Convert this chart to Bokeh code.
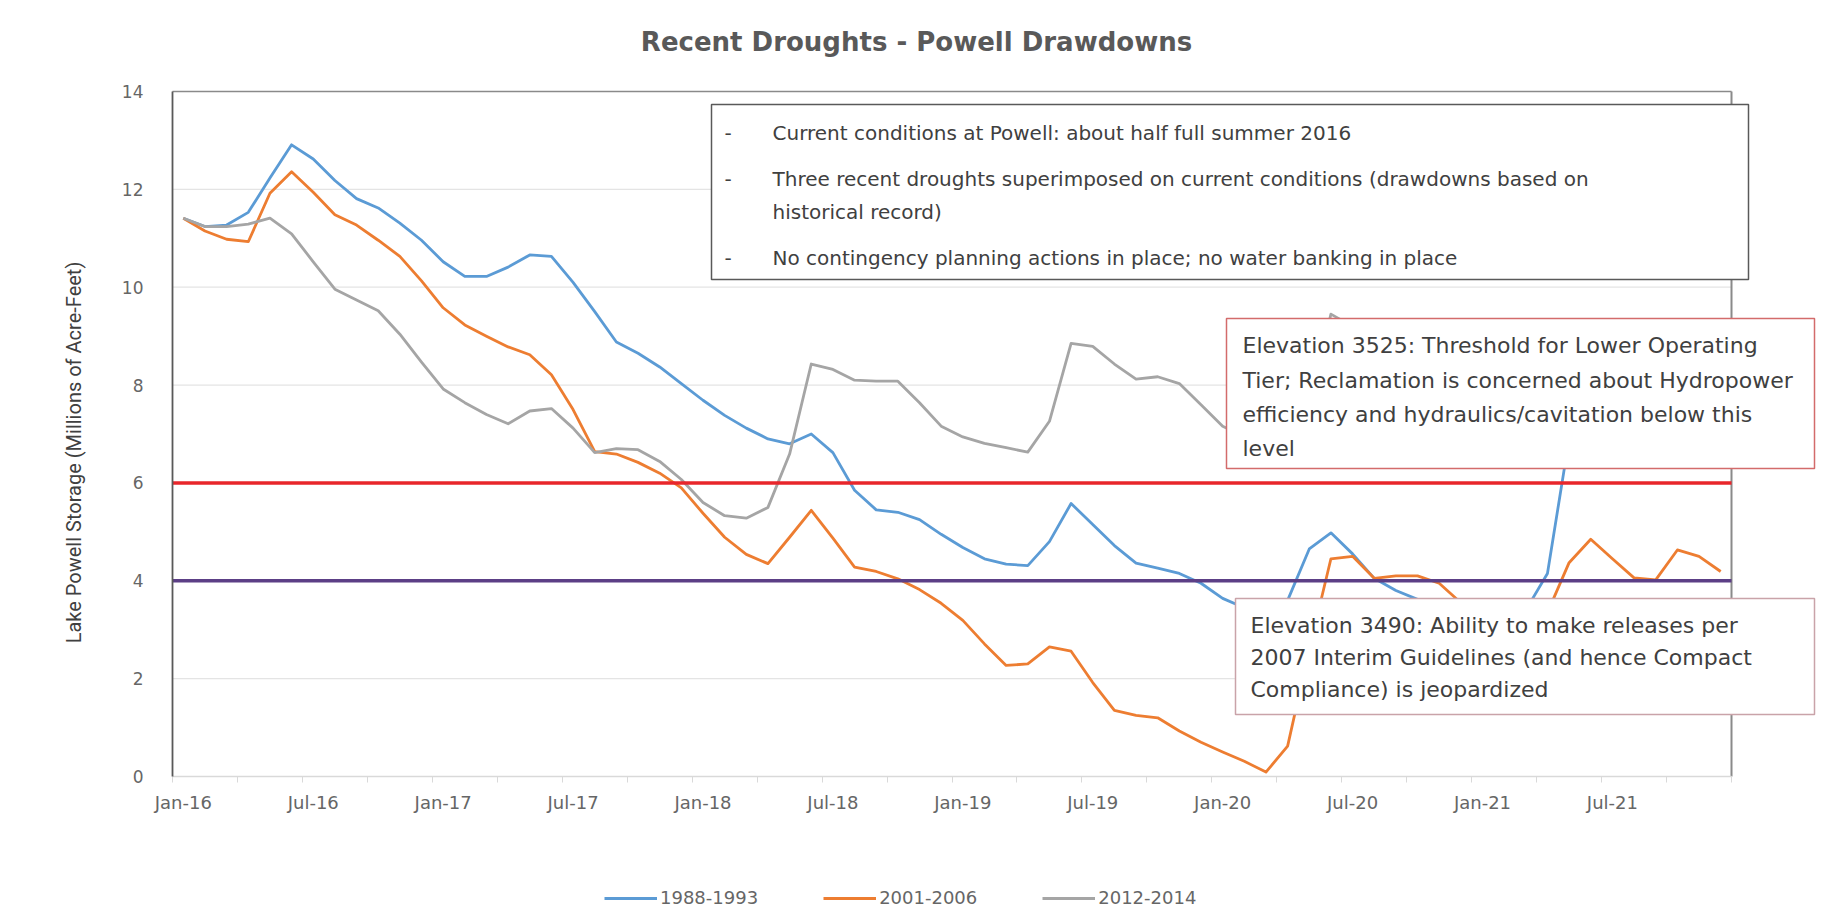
import math
from bokeh.plotting import figure
from bokeh.models import (Range1d, FixedTicker, BoxAnnotation, Label, Legend,
                          LegendItem)
from bokeh.embed import file_html
from bokeh.resources import INLINE

# ---------------- data ----------------
TICK_LABELS = ["Jan-16", "Jul-16", "Jan-17", "Jul-17", "Jan-18", "Jul-18",
               "Jan-19", "Jul-19", "Jan-20", "Jul-20", "Jan-21", "Jul-21"]
N_MONTHS = 72  # Jan-16 .. Dec-21

SERIES_NAMES = ["1988-1993", "2001-2006", "2012-2014"]

S_1988_1993 = [11.41, 11.24, 11.27, 11.53, 12.23, 12.91, 12.62, 12.18, 11.81, 11.62,
               11.31, 10.96, 10.52, 10.22, 10.22, 10.41, 10.66, 10.63, 10.10, 9.50,
               8.88, 8.65, 8.37, 8.03, 7.69, 7.38, 7.12, 6.90, 6.80, 7.00,
               6.62, 5.85, 5.45, 5.40, 5.25, 4.95, 4.68, 4.45, 4.34, 4.31,
               4.80, 5.58, 5.15, 4.72, 4.36, 4.26, 4.15, 3.95, 3.64, 3.45,
               3.30, 3.60, 4.65, 4.98, 4.55, 4.05, 3.80, 3.62, 3.45, 3.35,
               3.30, 3.30, 3.40, 4.15, 6.90, 7.60, 8.00, 8.20, 8.30, 8.30,
               8.20, 8.10]

S_2001_2006 = [11.41, 11.15, 10.98, 10.93, 11.92, 12.36, 11.94, 11.48, 11.27, 10.96,
               10.63, 10.13, 9.58, 9.23, 9.00, 8.78, 8.62, 8.21, 7.50, 6.64,
               6.59, 6.42, 6.20, 5.90, 5.38, 4.89, 4.54, 4.35, 4.89, 5.44,
               4.87, 4.28, 4.19, 4.04, 3.82, 3.54, 3.19, 2.71, 2.27, 2.30,
               2.65, 2.56, 1.92, 1.35, 1.25, 1.20, 0.93, 0.70, 0.50, 0.31,
               0.09, 0.62, 2.60, 4.45, 4.50, 4.05, 4.10, 4.10, 3.95, 3.55,
               3.30, 3.20, 3.20, 3.35, 4.37, 4.85, 4.45, 4.06, 4.02, 4.63,
               4.50, 4.19]

S_2012_2014 = [11.41, 11.24, 11.24, 11.29, 11.41, 11.09, 10.52, 9.96, 9.74, 9.52,
               9.04, 8.47, 7.92, 7.64, 7.40, 7.21, 7.47, 7.52, 7.12, 6.62,
               6.70, 6.68, 6.44, 6.07, 5.60, 5.33, 5.28, 5.50, 6.59, 8.43,
               8.32, 8.10, 8.08, 8.08, 7.64, 7.16, 6.94, 6.81, 6.72, 6.63,
               7.26, 8.85, 8.79, 8.43, 8.12, 8.17, 8.03, 7.60, 7.16, 6.95,
               6.85, 6.90, 7.60, 9.45, 9.20, 9.00, 8.80, 8.60, 8.40, 8.20,
               8.00, 7.80, 7.60, 7.50, 7.40, 7.60, 7.80, 7.70, 7.50, 7.30,
               7.10, 6.90]

THRESHOLDS = [6.0, 4.0]          # Elevation 3525, Elevation 3490
Y_TICKS = [0, 2, 4, 6, 8, 10, 12, 14]

SERIES_COLORS = ["#5b9bd5", "#ed7d31", "#a5a5a5"]
THRESHOLD_COLORS = ["#e8262b", "#5c3f86"]

# ---------------- layout (pixels of the page) ----------------
W, H = 1816, 908
FRAME_L = 172          # left edge of the charted area
PLOT_PX = 1559         # width of the charted area (72 months)
YTOP_PX, YZERO_PX = 91, 776   # pixel rows of y=14 and y=0
Y_MAX = 14
X0 = -0.5
X1 = X0 + N_MONTHS


def X(px):
    return X0 + (px - FRAME_L) * N_MONTHS / PLOT_PX


def Y(py):
    return (YZERO_PX - py) * Y_MAX / (YZERO_PX - YTOP_PX)


TXT = "DejaVu Sans"
GRAY_TXT = "#666666"

p = figure(width=W, height=H, output_backend="svg", toolbar_location=None,
           x_range=Range1d(X(0), X(W)), y_range=Range1d(Y(H), Y(0)),
           min_border=0, min_border_left=0, min_border_right=0,
           min_border_top=0, min_border_bottom=0)
p.outline_line_color = None
p.xgrid.visible = False
p.ygrid.visible = False

# gridlines limited to the charted area
for t in Y_TICKS[1:-1]:
    p.segment(x0=[X0], x1=[X1], y0=[t], y1=[t], line_color="#e4e4e4",
              line_width=1.2, level="underlay")
# plot-area border (top and right)
p.segment(x0=[X0], x1=[X1], y0=[Y_MAX], y1=[Y_MAX], line_color="#8a8a8a", line_width=1.6)
p.segment(x0=[X1], x1=[X1], y0=[0], y1=[Y_MAX], line_color="#8a8a8a", line_width=2)

# series
xs = list(range(N_MONTHS))
renderers = []
for name, vals, col in zip(SERIES_NAMES, [S_1988_1993, S_2001_2006, S_2012_2014], SERIES_COLORS):
    r = p.line(xs, vals, line_color=col, line_width=2.8, line_join="round")
    renderers.append(r)

# thresholds
for t, col in zip(THRESHOLDS, THRESHOLD_COLORS):
    p.segment(x0=[X0], x1=[X1], y0=[t], y1=[t], line_color=col, line_width=3.5)

# axes
xax = p.xaxis[0]
xax.fixed_location = 0
xax.ticker = FixedTicker(ticks=list(range(0, N_MONTHS - 5, 6)),
                         minor_ticks=[X0 + 3 * k for k in range(N_MONTHS // 3 + 1)])
xax.major_label_overrides = {i * 6: lab for i, lab in enumerate(TICK_LABELS)}
xax.bounds = (X0, X1)
xax.axis_line_color = "#d9d9d9"
xax.axis_line_width = 1.5
xax.major_tick_line_color = None
xax.major_tick_out = 0
xax.major_tick_in = 0
xax.minor_tick_line_color = "#d9d9d9"
xax.minor_tick_out = 6
xax.minor_tick_in = 0
xax.major_label_standoff = 9
xax.major_label_text_font = TXT
xax.major_label_text_font_size = "18px"
xax.major_label_text_color = GRAY_TXT

yax = p.yaxis[0]
yax.fixed_location = X0
yax.ticker = FixedTicker(ticks=Y_TICKS)
yax.bounds = (0, Y_MAX)
yax.axis_line_color = "#595959"
yax.axis_line_width = 1.8
yax.major_tick_line_color = None
yax.minor_tick_line_color = None
yax.major_tick_out = 0
yax.major_tick_in = 0
yax.major_label_standoff = 29
yax.major_label_text_font = TXT
yax.major_label_text_font_size = "17px"
yax.major_label_text_color = GRAY_TXT

# y-axis title (rotated)
p.add_layout(Label(x=X(73), y=Y(452), text="Lake Powell Storage (Millions of Acre-Feet)",
                   angle=math.pi / 2, text_align="center", text_baseline="middle",
                   text_font="Roboto", text_font_size="20px", text_color="#404040"))

# title
p.add_layout(Label(x=X(916), y=Y(41), text="Recent Droughts - Powell Drawdowns",
                   text_align="center", text_baseline="middle", text_font=TXT,
                   text_font_size="26px", text_font_style="bold", text_color="#595959"))

# legend
legend = Legend(items=[LegendItem(label=n, renderers=[r]) for n, r in zip(SERIES_NAMES, renderers)],
                orientation="horizontal", location=(604, 0),
                glyph_width=53, glyph_height=20, label_height=20, label_standoff=3,
                spacing=65, padding=0, margin=0, border_line_color=None,
                background_fill_alpha=0, label_text_font=TXT,
                label_text_font_size="18px", label_text_color=GRAY_TXT)
p.add_layout(legend)

# annotation boxes
ANN_COL = "#404040"


def box(l, r, t, b, col, w=1.5):
    p.add_layout(BoxAnnotation(left=X(l), right=X(r), top=Y(t), bottom=Y(b),
                               fill_color="white", fill_alpha=1.0,
                               line_color=col, line_width=w, line_alpha=1.0))


def text(px, py, s, size):
    p.add_layout(Label(x=X(px), y=Y(py), text=s, text_baseline="middle",
                       text_font=TXT, text_font_size=size, text_color=ANN_COL))


box(711, 1748, 104, 279, "#595959")
for py, s in [(132, "Current conditions at Powell: about half full summer 2016"),
              (178, "Three recent droughts superimposed on current conditions (drawdowns based on"),
              (257, "No contingency planning actions in place; no water banking in place")]:
    text(724, py, "-", "20px")
    text(772, py, s, "20px")
text(772, 211, "historical record)", "20px")

box(1226, 1814, 318, 468, "#d36b6b")
for py, s in [(345, "Elevation 3525: Threshold for Lower Operating"),
              (380, "Tier; Reclamation is concerned about Hydropower"),
              (414, "efficiency and hydraulics/cavitation below this"),
              (448, "level")]:
    text(1242, py, s, "22px")

box(1235, 1814, 598, 714, "#c9a3a9")
for py, s in [(625, "Elevation 3490: Ability to make releases per"),
              (657, "2007 Interim Guidelines (and hence Compact"),
              (689, "Compliance) is jeopardized")]:
    text(1250, py, s, "22px")

open("out.html", "w").write(file_html(p, INLINE))
